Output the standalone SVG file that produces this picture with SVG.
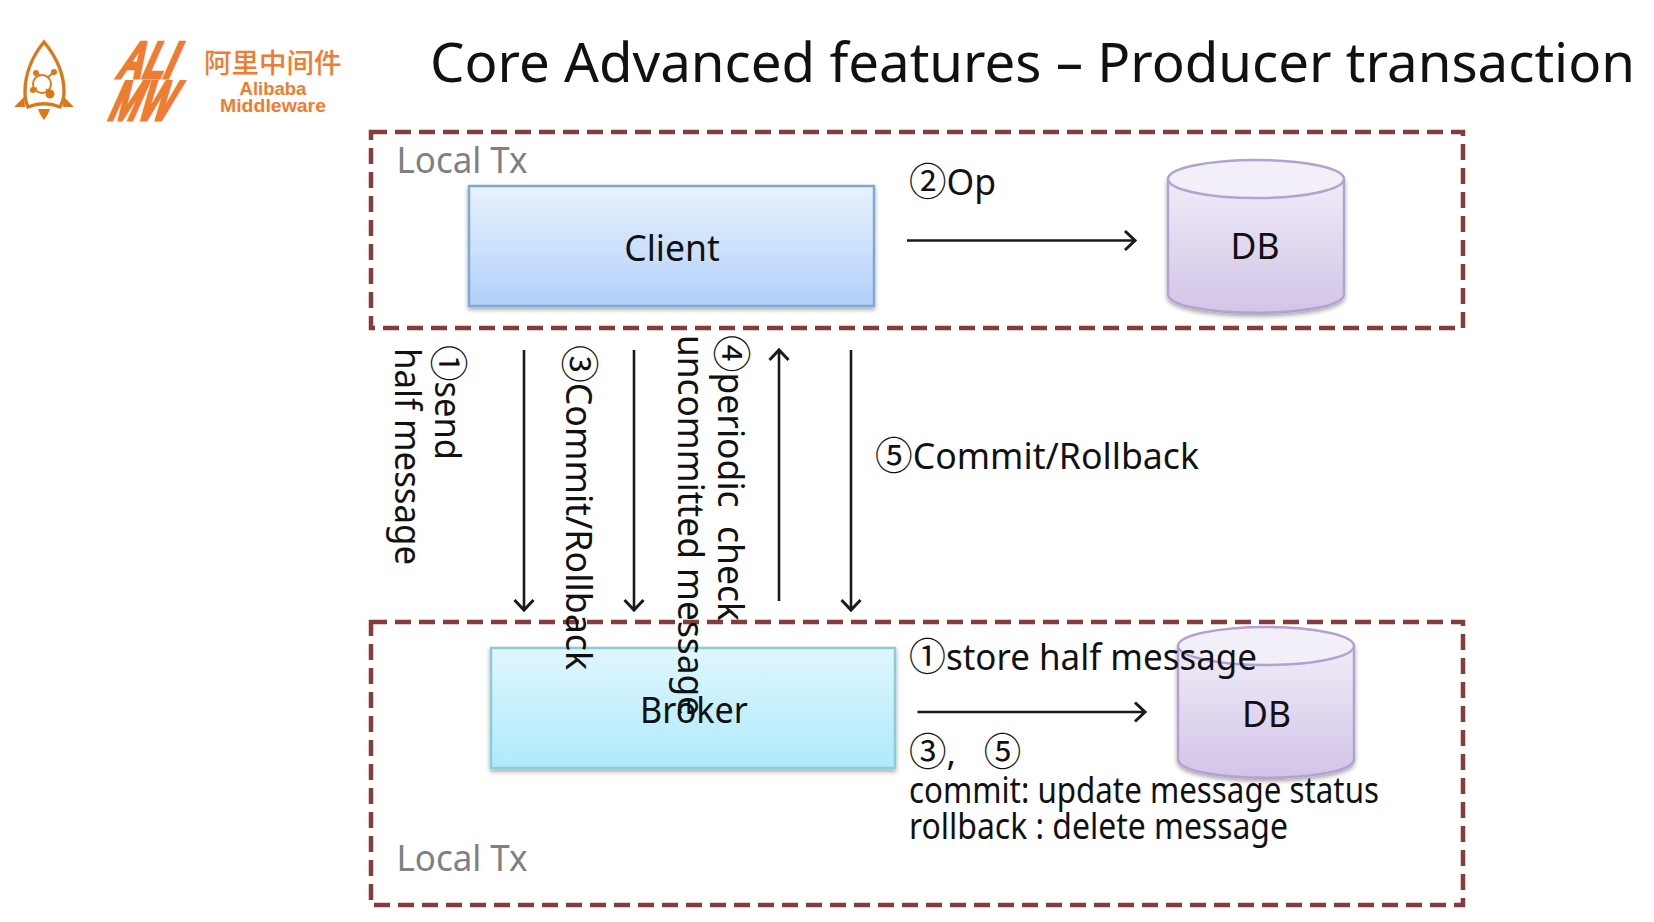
<svg xmlns="http://www.w3.org/2000/svg" width="1654" height="922" viewBox="0 0 1654 922">
<style>
text{font-family:"Noto Sans","Noto Sans CJK SC",sans-serif;fill:#111}
.t{font-size:35.5px}
.n{font-size:37.5px;font-family:"Noto Sans CJK SC",sans-serif}
.g{font-size:35.5px;fill:#808080}
.dash{fill:none;stroke:#843c3c;stroke-width:4.5;stroke-dasharray:16 8}
.arr{fill:none;stroke:#1a1a1a;stroke-width:2.6;marker-end:url(#ah)}
.cyl{fill:url(#gDb);stroke:#b3a2cf;stroke-width:2.5;filter:url(#sh)}
.top{fill:#f3eff9;stroke:#b3a2cf;stroke-width:2.5}
.rk{fill:#d9791a}
.lg{fill:#ee7d31;font-family:"Liberation Sans",sans-serif;font-weight:700}
</style>
<defs>
<linearGradient id="gC" x1="0" y1="0" x2="0" y2="1"><stop offset="0" stop-color="#e9f2fe"/><stop offset="1" stop-color="#b0d0f9"/></linearGradient>
<linearGradient id="gB" x1="0" y1="0" x2="0" y2="1"><stop offset="0" stop-color="#e0f6fe"/><stop offset="1" stop-color="#aeeafb"/></linearGradient>
<linearGradient id="gDb" x1="0" y1="0" x2="0" y2="1"><stop offset="0" stop-color="#f0ecf8"/><stop offset="1" stop-color="#d2c4e7"/></linearGradient>
<filter id="sh" x="-5%" y="-5%" width="110%" height="115%"><feDropShadow dx="0" dy="2.5" stdDeviation="2" flood-color="#000" flood-opacity=".35"/></filter>
<marker id="ah" viewBox="0 0 24 24" refX="20" refY="12" markerWidth="24" markerHeight="24" markerUnits="userSpaceOnUse" orient="auto"><path d="M10 2.5 L20 12 L10 21.5" fill="none" stroke="#1a1a1a" stroke-width="3"/></marker>
</defs>

<g id="logo">
<path d="M44 42 C34 54 25 72 25 92 C25 98 26 103 28 107 C38 103 50 103 60 107 C63 102 64 97 64 92 C64 72 54 54 44 42 Z" fill="#fff" stroke="#d9791a" stroke-width="3.4"/>
<path class="rk" d="M24 97 L14 107 L25 107 Z M64 97 L74 107 L63 107 Z M38 109 L50 109 L48 114 L44 120 L40 114 Z"/>
<g class="rk"><circle cx="42" cy="84" r="9" fill="#fff" stroke="#d9791a" stroke-width="2"/><circle cx="36" cy="73" r="3"/><circle cx="54" cy="72" r="3"/><circle cx="33" cy="90" r="3"/><circle cx="50" cy="94" r="4.5"/></g>
<path d="M36 73 L40 76 M54 72 L47 78 M33 90 L37 88 M50 94 L46 89" stroke="#d9791a" stroke-width="2"/>
<text class="lg" transform="translate(115 78) skewX(-24)" font-size="52" stroke="#ee7d31" stroke-width="3" textLength="56" lengthAdjust="spacingAndGlyphs">ALI</text>
<text class="lg" transform="translate(106 120) skewX(-24)" font-size="56" stroke="#ee7d31" stroke-width="3" textLength="62" lengthAdjust="spacingAndGlyphs">MW</text>
<text x="204" y="73" style="fill:#ee7d31;font-family:'Noto Sans CJK SC',sans-serif;font-weight:500;font-size:27.5px">阿里中间件</text>
<text class="lg" x="273" y="95" text-anchor="middle" font-size="18.5">Alibaba</text>
<text class="lg" x="273" y="112" text-anchor="middle" font-size="18.5" textLength="106" lengthAdjust="spacingAndGlyphs">Middleware</text>
</g>

<text id="title" x="430" y="82" font-size="55" textLength="1205" lengthAdjust="spacingAndGlyphs">Core Advanced features – Producer transaction</text>

<g id="localTxTop"><rect class="dash" x="371" y="132" width="1092" height="196"/><text class="g" x="396.5" y="173" textLength="131" lengthAdjust="spacingAndGlyphs">Local Tx</text></g>
<g id="localTxBottom"><rect class="dash" x="371" y="622" width="1092" height="283"/><text class="g" x="396.5" y="871" textLength="131" lengthAdjust="spacingAndGlyphs">Local Tx</text></g>

<g id="client"><rect x="469" y="186" width="405" height="120" fill="url(#gC)" stroke="#7fa9d2" stroke-width="2.5" filter="url(#sh)"/><text class="t" x="672" y="261" text-anchor="middle">Client</text></g>
<g id="db1"><path class="cyl" d="M1168 179 V294 C1168 319 1344 319 1344 294 V179 Z"/><ellipse class="top" cx="1256" cy="179" rx="88" ry="19"/><text class="t" x="1255" y="259" text-anchor="middle">DB</text></g>
<g id="broker"><rect x="491" y="648" width="404" height="120" fill="url(#gB)" stroke="#8accd8" stroke-width="2.5" filter="url(#sh)"/><text class="t" x="694" y="723" text-anchor="middle" textLength="108" lengthAdjust="spacingAndGlyphs">Broker</text></g>
<g id="db2"><path class="cyl" d="M1178 646 V759 C1178 784 1354 784 1354 759 V646 Z"/><ellipse class="top" cx="1266" cy="646" rx="88" ry="19"/><text class="t" x="1266.5" y="727" text-anchor="middle">DB</text></g>

<g id="connectors">
<path class="arr" d="M907 240.5 H1135"/>
<path class="arr" d="M524 350 V610"/>
<path class="arr" d="M634 350 V610"/>
<path class="arr" d="M779 601 V350"/>
<path class="arr" d="M851 350 V610"/>
<path class="arr" d="M917.5 712 H1145"/>
</g>

<g id="labels">
<text class="t" transform="translate(435 345) rotate(90)" textLength="115" lengthAdjust="spacingAndGlyphs"><tspan class="n">①</tspan>send</text>
<text class="t" transform="translate(395 348) rotate(90)" textLength="217" lengthAdjust="spacingAndGlyphs">half message</text>
<text class="t" transform="translate(566 345) rotate(90)" textLength="325" lengthAdjust="spacingAndGlyphs"><tspan class="n">③</tspan>Commit/Rollback</text>
<text class="t" transform="translate(678 335) rotate(90)" textLength="381" lengthAdjust="spacingAndGlyphs">uncommitted message</text>
<text class="t" transform="translate(718 335) rotate(90)" textLength="286" lengthAdjust="spacingAndGlyphs" xml:space="preserve"><tspan class="n">④</tspan>periodic  check</text>
<text class="t" x="875" y="469" textLength="324" lengthAdjust="spacingAndGlyphs"><tspan class="n">⑤</tspan>Commit/Rollback</text>
<text class="t" x="909" y="195"><tspan class="n">②</tspan>Op</text>
<text class="t" x="909" y="670" textLength="348" lengthAdjust="spacingAndGlyphs"><tspan class="n">①</tspan>store half message</text>
<text class="t" x="909" y="765" xml:space="preserve"><tspan class="n">③</tspan>,   <tspan class="n">⑤</tspan></text>
<text class="t" x="909" y="803" textLength="470" lengthAdjust="spacingAndGlyphs">commit: update message status</text>
<text class="t" x="909" y="839" textLength="379" lengthAdjust="spacingAndGlyphs">rollback : delete message</text>
</g>
</svg>
